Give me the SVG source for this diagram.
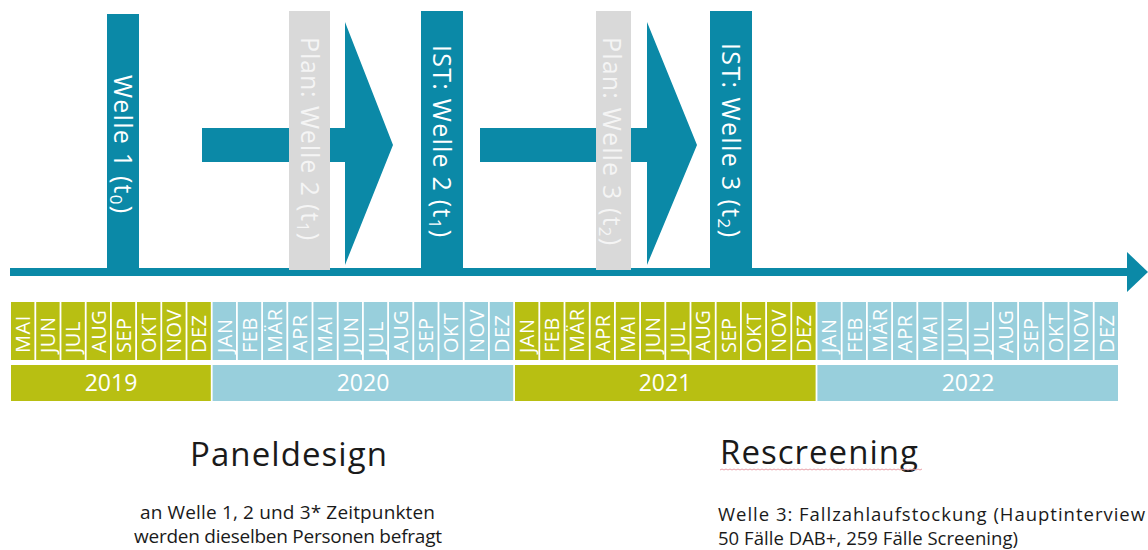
<svg xmlns="http://www.w3.org/2000/svg" width="1148" height="550" viewBox="0 0 1148 550">
<style>
.teal{fill:#0b89a7}
.grey{fill:#d9d9d9}
.olive{fill:#b8bf12}
.blue{fill:#98cfdc}
.bl{font-family:"Open Sans","Liberation Sans",sans-serif;font-size:25px;fill:#ffffff}
.gl{font-family:"Open Sans","Liberation Sans",sans-serif;font-size:25px;fill:#f5f5f5}
.sub{font-size:17px}
.mo{font-family:"Open Sans","Liberation Sans",sans-serif;font-size:20px;fill:#ffffff;letter-spacing:0.5px}
.yr{font-family:"Open Sans","Liberation Sans",sans-serif;font-size:23px;fill:#ffffff;text-anchor:middle}
.h{font-family:"Open Sans","Liberation Sans",sans-serif;font-size:33px;fill:#1a1a1a;font-weight:500}
.t{font-family:"Open Sans","Liberation Sans",sans-serif;font-size:19px;fill:#1a1a1a}
.r{font-family:"Open Sans","Liberation Sans",sans-serif;font-size:18.5px;fill:#1a1a1a}
</style>
<rect width="1148" height="550" fill="#ffffff"/>

<g id="connectors">
  <rect class="teal" x="10" y="268" width="1118" height="8"/>
  <polygon class="teal" points="1127,252 1148,272 1127,292"/>
  <polygon class="teal" points="202,128 345,128 345,22 393,145 345,265 345,162 202,162"/>
  <polygon class="teal" points="480,128 647,128 647,22 697,145 647,265 647,162 480,162"/>
</g>

<g id="welle1">
  <rect class="teal" x="107" y="14" width="32" height="256"/>
  <text class="bl" transform="translate(114,75) rotate(90)" textLength="138" lengthAdjust="spacing">Welle 1 (t<tspan class="sub" baseline-shift="-4">0</tspan>)</text>
</g>
<g id="plan-welle2">
  <rect class="grey" x="289" y="11" width="41" height="259"/>
  <text class="gl" transform="translate(301,37) rotate(90)" textLength="203" lengthAdjust="spacing">Plan: Welle 2 (t<tspan class="sub" baseline-shift="-4">1</tspan>)</text>
</g>
<g id="ist-welle2">
  <rect class="teal" x="421" y="11" width="42" height="259"/>
  <text class="bl" transform="translate(433,45) rotate(90)" textLength="192" lengthAdjust="spacing">IST: Welle 2 (t<tspan class="sub" baseline-shift="-4">1</tspan>)</text>
</g>
<g id="plan-welle3">
  <rect class="grey" x="596" y="11" width="35" height="259"/>
  <text class="gl" transform="translate(603,37) rotate(90)" textLength="208" lengthAdjust="spacing">Plan: Welle 3 (t<tspan class="sub" baseline-shift="-4">2</tspan>)</text>
</g>
<g id="ist-welle3">
  <rect class="teal" x="710" y="11" width="42" height="259"/>
  <text class="bl" transform="translate(722,43) rotate(90)" textLength="194" lengthAdjust="spacing">IST: Welle 3 (t<tspan class="sub" baseline-shift="-4">2</tspan>)</text>
</g>

<g id="months">
  <g id="m2019">
    <rect class="olive" x="11.0" y="302" width="23.4" height="58"/><text class="mo" transform="translate(29.9,353) rotate(-90)">MAI</text>
    <rect class="olive" x="36.2" y="302" width="23.4" height="58"/><text class="mo" transform="translate(55.1,353) rotate(-90)">JUN</text>
    <rect class="olive" x="61.4" y="302" width="23.4" height="58"/><text class="mo" transform="translate(80.3,353) rotate(-90)">JUL</text>
    <rect class="olive" x="86.6" y="302" width="23.4" height="58"/><text class="mo" transform="translate(105.5,353) rotate(-90)">AUG</text>
    <rect class="olive" x="111.8" y="302" width="23.4" height="58"/><text class="mo" transform="translate(130.7,353) rotate(-90)">SEP</text>
    <rect class="olive" x="137.0" y="302" width="23.4" height="58"/><text class="mo" transform="translate(155.9,353) rotate(-90)">OKT</text>
    <rect class="olive" x="162.2" y="302" width="23.4" height="58"/><text class="mo" transform="translate(181.1,353) rotate(-90)">NOV</text>
    <rect class="olive" x="187.4" y="302" width="23.4" height="58"/><text class="mo" transform="translate(206.3,353) rotate(-90)">DEZ</text>
  </g>
  <g id="m2020">
    <rect class="blue" x="212.6" y="302" width="23.4" height="58"/><text class="mo" transform="translate(231.5,353) rotate(-90)">JAN</text>
    <rect class="blue" x="237.8" y="302" width="23.4" height="58"/><text class="mo" transform="translate(256.7,353) rotate(-90)">FEB</text>
    <rect class="blue" x="263.0" y="302" width="23.4" height="58"/><text class="mo" transform="translate(281.9,353) rotate(-90)">MÄR</text>
    <rect class="blue" x="288.2" y="302" width="23.4" height="58"/><text class="mo" transform="translate(307.1,353) rotate(-90)">APR</text>
    <rect class="blue" x="313.4" y="302" width="23.4" height="58"/><text class="mo" transform="translate(332.3,353) rotate(-90)">MAI</text>
    <rect class="blue" x="338.6" y="302" width="23.4" height="58"/><text class="mo" transform="translate(357.5,353) rotate(-90)">JUN</text>
    <rect class="blue" x="363.8" y="302" width="23.4" height="58"/><text class="mo" transform="translate(382.7,353) rotate(-90)">JUL</text>
    <rect class="blue" x="389.0" y="302" width="23.4" height="58"/><text class="mo" transform="translate(407.9,353) rotate(-90)">AUG</text>
    <rect class="blue" x="414.2" y="302" width="23.4" height="58"/><text class="mo" transform="translate(433.1,353) rotate(-90)">SEP</text>
    <rect class="blue" x="439.4" y="302" width="23.4" height="58"/><text class="mo" transform="translate(458.3,353) rotate(-90)">OKT</text>
    <rect class="blue" x="464.6" y="302" width="23.4" height="58"/><text class="mo" transform="translate(483.5,353) rotate(-90)">NOV</text>
    <rect class="blue" x="489.8" y="302" width="23.4" height="58"/><text class="mo" transform="translate(508.7,353) rotate(-90)">DEZ</text>
  </g>
  <g id="m2021">
    <rect class="olive" x="515.0" y="302" width="23.4" height="58"/><text class="mo" transform="translate(533.9,353) rotate(-90)">JAN</text>
    <rect class="olive" x="540.2" y="302" width="23.4" height="58"/><text class="mo" transform="translate(559.1,353) rotate(-90)">FEB</text>
    <rect class="olive" x="565.4" y="302" width="23.4" height="58"/><text class="mo" transform="translate(584.3,353) rotate(-90)">MÄR</text>
    <rect class="olive" x="590.6" y="302" width="23.4" height="58"/><text class="mo" transform="translate(609.5,353) rotate(-90)">APR</text>
    <rect class="olive" x="615.8" y="302" width="23.4" height="58"/><text class="mo" transform="translate(634.7,353) rotate(-90)">MAI</text>
    <rect class="olive" x="641.0" y="302" width="23.4" height="58"/><text class="mo" transform="translate(659.9,353) rotate(-90)">JUN</text>
    <rect class="olive" x="666.2" y="302" width="23.4" height="58"/><text class="mo" transform="translate(685.1,353) rotate(-90)">JUL</text>
    <rect class="olive" x="691.4" y="302" width="23.4" height="58"/><text class="mo" transform="translate(710.3,353) rotate(-90)">AUG</text>
    <rect class="olive" x="716.6" y="302" width="23.4" height="58"/><text class="mo" transform="translate(735.5,353) rotate(-90)">SEP</text>
    <rect class="olive" x="741.8" y="302" width="23.4" height="58"/><text class="mo" transform="translate(760.7,353) rotate(-90)">OKT</text>
    <rect class="olive" x="767.0" y="302" width="23.4" height="58"/><text class="mo" transform="translate(785.9,353) rotate(-90)">NOV</text>
    <rect class="olive" x="792.2" y="302" width="23.4" height="58"/><text class="mo" transform="translate(811.1,353) rotate(-90)">DEZ</text>
  </g>
  <g id="m2022">
    <rect class="blue" x="817.4" y="302" width="23.4" height="58"/><text class="mo" transform="translate(836.3,353) rotate(-90)">JAN</text>
    <rect class="blue" x="842.6" y="302" width="23.4" height="58"/><text class="mo" transform="translate(861.5,353) rotate(-90)">FEB</text>
    <rect class="blue" x="867.8" y="302" width="23.4" height="58"/><text class="mo" transform="translate(886.7,353) rotate(-90)">MÄR</text>
    <rect class="blue" x="893.0" y="302" width="23.4" height="58"/><text class="mo" transform="translate(911.9,353) rotate(-90)">APR</text>
    <rect class="blue" x="918.2" y="302" width="23.4" height="58"/><text class="mo" transform="translate(937.1,353) rotate(-90)">MAI</text>
    <rect class="blue" x="943.4" y="302" width="23.4" height="58"/><text class="mo" transform="translate(962.3,353) rotate(-90)">JUN</text>
    <rect class="blue" x="968.6" y="302" width="23.4" height="58"/><text class="mo" transform="translate(987.5,353) rotate(-90)">JUL</text>
    <rect class="blue" x="993.8" y="302" width="23.4" height="58"/><text class="mo" transform="translate(1012.7,353) rotate(-90)">AUG</text>
    <rect class="blue" x="1019.0" y="302" width="23.4" height="58"/><text class="mo" transform="translate(1037.9,353) rotate(-90)">SEP</text>
    <rect class="blue" x="1044.2" y="302" width="23.4" height="58"/><text class="mo" transform="translate(1063.1,353) rotate(-90)">OKT</text>
    <rect class="blue" x="1069.4" y="302" width="23.4" height="58"/><text class="mo" transform="translate(1088.3,353) rotate(-90)">NOV</text>
    <rect class="blue" x="1094.6" y="302" width="23.4" height="58"/><text class="mo" transform="translate(1113.5,353) rotate(-90)">DEZ</text>
  </g>
</g>

<g id="years">
  <g id="y2019"><rect class="olive" x="11" y="365" width="199.8" height="36"/><text class="yr" x="111" y="391">2019</text></g>
  <g id="y2020"><rect class="blue" x="212.6" y="365" width="300.6" height="36"/><text class="yr" x="363" y="391">2020</text></g>
  <g id="y2021"><rect class="olive" x="515" y="365" width="300.6" height="36"/><text class="yr" x="665" y="391">2021</text></g>
  <g id="y2022"><rect class="blue" x="817.4" y="365" width="300.6" height="36"/><text class="yr" x="968" y="391">2022</text></g>
</g>

<g id="paneldesign">
  <text class="h" x="190" y="466" textLength="197" lengthAdjust="spacing">Paneldesign</text>
  <text class="t" x="140" y="519" textLength="295" lengthAdjust="spacing">an Welle 1, 2 und 3* Zeitpunkten</text>
  <text class="t" x="134" y="543" textLength="308" lengthAdjust="spacing">werden dieselben Personen befragt</text>
</g>

<g id="rescreening">
  <text class="h" x="720" y="464" textLength="198" lengthAdjust="spacing">Rescreening</text>
  <path d="M720,470 l2,-1 l2,1 l2,-1 l2,1 l2,-1 l2,1 l2,-1 l2,1 l2,-1 l2,1 l2,-1 l2,1 l2,-1 l2,1 l2,-1 l2,1 l2,-1 l2,1 l2,-1 l2,1 l2,-1 l2,1 l2,-1 l2,1 l2,-1 l2,1 l2,-1 l2,1 l2,-1 l2,1 l2,-1 l2,1 l2,-1 l2,1 l2,-1 l2,1 l2,-1 l2,1 l2,-1 l2,1 l2,-1 l2,1 l2,-1 l2,1 l2,-1 l2,1 l2,-1 l2,1 l2,-1 l2,1 l2,-1 l2,1 l2,-1 l2,1 l2,-1 l2,1 l2,-1 l2,1 l2,-1 l2,1 l2,-1 l2,1 l2,-1 l2,1 l2,-1 l2,1 l2,-1 l2,1 l2,-1 l2,1 l2,-1 l2,1 l2,-1 l2,1 l2,-1 l2,1 l2,-1 l2,1 l2,-1 l2,1 l2,-1 l2,1 l2,-1 l2,1 l2,-1 l2,1 l2,-1 l2,1 l2,-1 l2,1 l2,-1 l2,1 l2,-1 l2,1 l2,-1 l2,1 l2,-1 l2,1 l2,-1 l2,1 l2,-1" fill="none" stroke="#e8a0a8" stroke-width="1"/>
  <text class="r" x="718" y="521" textLength="427" lengthAdjust="spacing">Welle 3: Fallzahlaufstockung (Hauptinterview</text>
  <text class="r" x="718" y="545" textLength="300" lengthAdjust="spacing">50 Fälle DAB+, 259 Fälle Screening)</text>
</g>
</svg>
